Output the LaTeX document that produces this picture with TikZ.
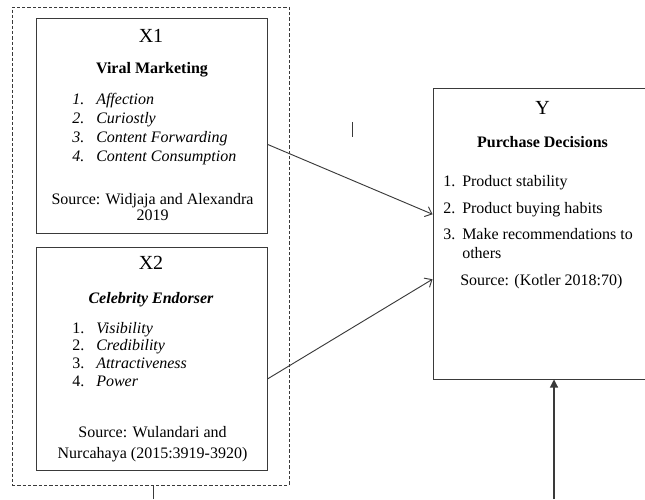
\documentclass[tikz,border=0pt]{standalone}
\usepackage{fontspec}
\setmainfont{Liberation Serif}
\usepackage{tikz}
\usetikzlibrary{arrows.meta,positioning,fit}
\definecolor{inkgray}{HTML}{3A3A3A}
\newcommand{\numit}[2]{\makebox[18pt][l]{#1}#2}

\begin{document}
\begin{tikzpicture}[
  x=0.75pt, y=-0.75pt,
  varbox/.style={draw=inkgray, line width=0.75pt, inner sep=0pt},
  group/.style={draw=inkgray, line width=0.7pt, dash pattern=on 2.5pt off 1.5pt, inner sep=0pt},
  heading/.style={font=\fontsize{15}{17}\selectfont, inner sep=0pt},
  subhead/.style={font=\fontsize{12}{14}\selectfont\bfseries, inner sep=0pt},
  entry/.style={anchor=base west, font=\fontsize{12}{14}\selectfont, inner sep=0pt},
  srcline/.style={anchor=base, font=\fontsize{12}{14}\selectfont, inner sep=0pt},
  link/.style={draw=inkgray, line width=0.7pt, -{Straight Barb[length=4.5pt,width=8pt]}},
  feed/.style={draw=inkgray, line width=0.8pt, -{Triangle[length=6pt,width=6pt]}}
]
\clip (0,0) rectangle (645,499);

% frames
\node[group, fit={(12,7) (289,485)}] (grp) {};
\node[varbox, fit={(36,19) (267,233)}] (x1) {};
\node[varbox, fit={(36,247) (267,470)}] (x2) {};
\node[varbox, fit={(433,89) (656,379)}] (y) {};

% X1
\node[heading] (x1h) at (151,36) {X1};
\node[subhead] (x1s) at (152,70) {Viral Marketing};
\foreach \i/\t in {1/Affection, 2/Curiostly, 3/Content Forwarding, 4/Content Consumption}
  \node[entry] (x1i\i) at (72,85.5+19*\i) {\itshape\numit{\i.}{\t}};
\node[srcline] (x1r1) at (152.5,204) {Source: Widjaja and Alexandra};
\node[srcline] (x1r2) at (152.5,220) {2019};

% X2
\node[heading] (x2h) at (151,263) {X2};
\node[subhead] (x2s) at (151,300) {\itshape Celebrity Endorser};
\foreach \i/\t in {1/Visibility, 2/Credibility, 3/Attractiveness, 4/Power}
  \node[entry] (x2i\i) at (72,315.2+17.8*\i) {\numit{\i.}{\itshape\t}};
\node[srcline] (x2r1) at (152.5,437) {Source: Wulandari and};
\node[srcline] (x2r2) at (152.5,458) {Nurcahaya (2015:3919-3920)};

% Y
\node[heading] (yh) at (542.5,108) {Y};
\node[subhead] (ys) at (542.5,142) {Purchase Decisions};
\node[entry] (yi1) at (443,186) {\makebox[14.25pt][l]{1.}Product stability};
\node[entry] (yi2) at (443,213) {\makebox[14.25pt][l]{2.}Product buying habits};
\node[entry] (yi3) at (443,239.5) {\makebox[14.25pt][l]{3.}Make recommendations to};
\node[entry] (yi4) at (462,258.5) {others};
\node[entry] (yr) at (460,285.5) {Source: (Kotler 2018:70)};

% connectors
\draw[link] (x1.-9.3) -- (y.170.3);
\draw[link] (x2.-10.5) -- (y.202);
\coordinate (yin) at (554,499);
\draw[feed] (yin) -- (yin |- y.south);
\coordinate (gout) at (153,499);
\draw[inkgray, line width=0.7pt] (gout) -- (gout |- grp.south);
\coordinate (mk) at (352,122);
\draw[inkgray, line width=0.6pt] (mk) -- ++(0,15);
\end{tikzpicture}
\end{document}
